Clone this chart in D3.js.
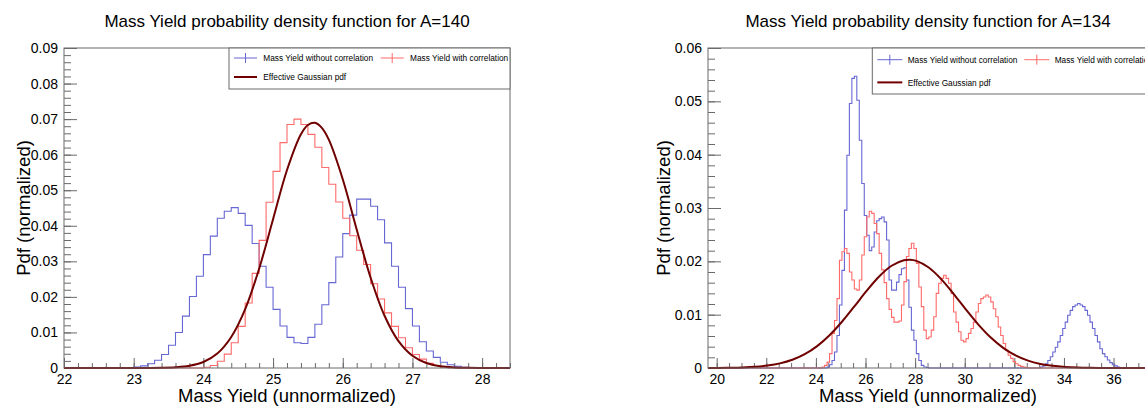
<!DOCTYPE html>
<html><head><meta charset="utf-8">
<script src="https://cdn.jsdelivr.net/npm/d3@7"></script>
<style>
body{margin:0;background:#fff}
svg{display:block}
text{font-family:"Liberation Sans",Arial,Helvetica,sans-serif;fill:#000}
</style>
</head><body>
<svg id="c" width="1145" height="407"></svg>
<script>
// ---------------- DATA ----------------
const binWidth = 0.1;

// Left panel (A=140): bins 22.0 .. 28.4
const leftTitle = "Mass Yield probability density function for A=140";
const leftBinStart = 22.0;
const leftBlue = [
  0,0,0,0,0,0,0,0,0,0,
  0.0003,0.0006,0.0012,0.0022,0.0038,0.0064,0.0100,0.0146,0.0201,0.0258,
  0.0319,0.0371,0.0421,0.0441,0.0451,0.0435,0.0401,0.0350,0.0286,0.0227,
  0.0165,0.0118,0.0086,0.0071,0.0069,0.0086,0.0123,0.0178,0.0240,0.0312,
  0.0378,0.0430,0.0475,0.0475,0.0455,0.0417,0.0352,0.0286,0.0227,0.0167,
  0.0118,0.0074,0.0048,0.0030,0.0016,0.0009,0.0005,0.0002,0.0001,
  0,0,0,0,0
];
const leftRed = [
  0,0,0,0,0,0,0,0,0,0,
  0,0,0,0,0,0,0,0,0,0,
  0.0002,0.0007,0.0019,0.0039,0.0071,0.0117,0.0183,0.0266,0.0359,0.0466,
  0.0553,0.0634,0.0685,0.0700,0.0685,0.0657,0.0621,0.0564,0.0517,0.0467,
  0.0421,0.0372,0.0331,0.0291,0.0237,0.0194,0.0155,0.0117,0.0085,0.0057,
  0.0038,0.0025,0.0013,0.0007,0.0003,0.0001,
  0,0,0,0,0,0,0,0
];
const leftGaussX = [22.0,22.5,23.0,23.2,23.4,23.6,23.8,24.0,24.2,24.4,24.6,24.8,25.0,25.2,25.4,25.5,25.6,25.7,25.8,26.0,26.2,26.4,26.6,26.8,27.0,27.2,27.4,27.6,27.8,28.0,28.4];
const leftGaussY = [0,0,0.0000035,0.000015,0.000059,0.000203,0.000622,0.00169,0.00407,0.00872,0.01655,0.02793,0.04185,0.05568,0.06575,0.06834,0.06896,0.06754,0.06421,0.05309,0.03897,0.0254,0.0147,0.00755,0.00345,0.0014,0.0005,0.00016,0.000045,0.0000115,0];
const leftXTicks = [22,23,24,25,26,27,28];
const leftYTicks = [0,0.01,0.02,0.03,0.04,0.05,0.06,0.07,0.08,0.09];

// Right panel (A=134): bins 19.65 .. 37.55
const rightTitle = "Mass Yield probability density function for A=134";
const rightBinStart = 19.65;
const rightBinCount = 179;
const rightBlueStartA = 24.45;
const rightBlueA = [
  0.0002,0.0006,0.0014,0.0030,0.0061,0.0118,0.0183,0.0296,0.0399,0.0496,
  0.0543,0.0547,0.0502,0.0427,0.0346,0.0286,0.0249,0.0220,0.0227,0.0255,
  0.0276,0.0280,0.0283,0.0274,0.0240,0.0165,0.0146,0.0146,0.0161,0.0175,
  0.0186,0.0188,0.0165,0.0114,0.0071,0.0052,0.0027,0.0014,0.0005,0.0002,0.0001
];
const rightBlueStartB = 33.05;
const rightBlueB = [
  0.0002,0.0004,0.0008,0.0014,0.0021,0.0030,0.0039,0.0049,0.0061,0.0074,
  0.0086,0.0099,0.0108,0.0115,0.0118,0.0121,0.0118,0.0115,0.0108,0.0099,
  0.0086,0.0074,0.0061,0.0049,0.0036,0.0027,0.0021,0.0015,0.0010,0.0006,0.0004,0.0002
];
const rightRedStart = 24.25;
const rightRed = [
  0.0002,0.0005,0.0011,0.0027,0.0065,0.0089,0.0130,0.0202,0.0218,0.0224,
  0.0215,0.0180,0.0165,0.0148,0.0146,0.0165,0.0212,0.0246,0.0283,0.0294,
  0.0290,0.0271,0.0252,0.0215,0.0184,0.0160,0.0130,0.0110,0.0095,0.0086,
  0.0086,0.0088,0.0118,0.0162,0.0209,0.0224,0.0234,0.0224,0.0196,0.0152,
  0.0115,0.0071,0.0055,0.0058,0.0071,0.0096,0.0140,0.0159,0.0168,0.0174,
  0.0168,0.0159,0.0140,0.0105,0.0086,0.0068,0.0052,0.0049,0.0055,0.0065,
  0.0074,0.0086,0.0105,0.0121,0.0130,0.0133,0.0137,0.0133,0.0124,0.0111,
  0.0096,0.0077,0.0061,0.0046,0.0033,0.0024,0.0018,0.0012,0.0008,0.0005,
  0.0003,0.0002,0.0001
];
const rightGaussX = [19.65,20.05,20.55,21.05,21.55,22.05,22.55,23.05,23.55,24.05,24.55,25.05,25.55,26.05,26.55,27.05,27.55,27.8,28.05,28.55,29.05,29.55,30.05,30.55,31.05,31.55,32.05,32.55,33.05,33.55,34.05,34.55,35.05,35.55,36.05,37.55];
const rightGaussY = [0.000006,0.00002,0.000048,0.000108,0.000229,0.000458,0.000865,0.00154,0.00259,0.00411,0.00615,0.00867,0.01154,0.01449,0.01716,0.01917,0.0202,0.0203,0.02009,0.01884,0.01667,0.01391,0.01095,0.00813,0.0057,0.00377,0.00235,0.00138,0.000765,0.0004,0.000198,0.000092,0.00004,0.000016,0.000006,0];
const rightXTicks = [20,22,24,26,28,30,32,34,36];
const rightYTicks = [0,0.01,0.02,0.03,0.04,0.05,0.06];

const legendLabels = ["Mass Yield without correlation","Mass Yield with correlation","Effective Gaussian pdf"];
const xTitle = "Mass Yield (unnormalized)";
const yTitle = "Pdf (normalized)";

// ---------------- STYLE ----------------
const BLUE = "#6767d4", RED = "#ff6a6a", GAUSS = "#700000", FRAME = "#6a6a6a";

const svg = d3.select("#c");
svg.append("rect").attr("width",1145).attr("height",407).attr("fill","#fff");

function fullArray(start, count, segs){
  const arr = new Array(count).fill(0);
  segs.forEach(([s, vals]) => {
    const i0 = Math.round((s - start)/binWidth);
    vals.forEach((v,i)=>{ if (i0+i>=0 && i0+i<count) arr[i0+i]=v; });
  });
  return arr;
}

function drawPanel(cfg){
  const g = svg.append("g");
  const x = d3.scaleLinear().domain(cfg.xDomain).range([cfg.x0, cfg.x1]);
  const y = d3.scaleLinear().domain(cfg.yDomain).range([cfg.y1, cfg.y0]);
  const clipId = "clip"+cfg.id;
  svg.append("clipPath").attr("id",clipId).append("rect")
    .attr("x",cfg.x0).attr("y",cfg.y0-2).attr("width",cfg.x1-cfg.x0).attr("height",cfg.y1-cfg.y0+4);

  // minor ticks
  g.append("g").attr("transform",`translate(${cfg.x0},0)`)
    .call(d3.axisLeft(y).tickValues(cfg.yMinor).tickSize(-7).tickFormat(""))
    .call(s=>{s.select(".domain").remove(); s.selectAll("line").attr("stroke",FRAME);});
  g.append("g").attr("transform",`translate(0,${cfg.y1})`)
    .call(d3.axisBottom(x).tickValues(cfg.xMinor).tickSize(-5).tickFormat(""))
    .call(s=>{s.select(".domain").remove(); s.selectAll("line").attr("stroke",FRAME);});
  // major ticks
  g.append("g").attr("transform",`translate(${cfg.x0},0)`)
    .call(d3.axisLeft(y).tickValues(cfg.yTicks).tickSize(-13).tickPadding(6)
      .tickFormat(d => d===0 ? "0" : d3.format(".2f")(d)))
    .call(s=>{s.select(".domain").remove(); s.selectAll("line").attr("stroke",FRAME);
      s.selectAll("text").attr("font-size",14).attr("font-family",'"Liberation Sans",Arial,sans-serif').attr("fill","#000");});
  g.append("g").attr("transform",`translate(0,${cfg.y1})`)
    .call(d3.axisBottom(x).tickValues(cfg.xTicks).tickSize(-10).tickPadding(6).tickFormat(d3.format("d")))
    .call(s=>{s.select(".domain").remove(); s.selectAll("line").attr("stroke",FRAME);
      s.selectAll("text").attr("font-size",14).attr("font-family",'"Liberation Sans",Arial,sans-serif').attr("fill","#000");});

  // histograms
  const line = d3.line().x(d=>x(d[0])).y(d=>y(d[1])).curve(d3.curveStepAfter);
  const plot = g.append("g").attr("clip-path",`url(#${clipId})`);
  [[cfg.blue, BLUE],[cfg.red, RED]].forEach(([vals,col])=>{
    const pts = vals.map((v,i)=>[cfg.binStart + i*binWidth, v]);
    pts.push([cfg.binStart + vals.length*binWidth, vals[vals.length-1]]);
    plot.append("path").attr("d",line(pts)).attr("fill","none").attr("stroke",col).attr("stroke-width",1.1);
  });
  const gl = d3.line().x(d=>x(d[0])).y(d=>y(d[1])).curve(d3.curveCatmullRom.alpha(0.5));
  plot.append("path").attr("d",gl(cfg.gx.map((v,i)=>[v,cfg.gy[i]])))
    .attr("fill","none").attr("stroke",GAUSS).attr("stroke-width",2);

  // frame
  g.append("rect").attr("x",cfg.x0).attr("y",cfg.y0).attr("width",cfg.x1-cfg.x0).attr("height",cfg.y1-cfg.y0)
    .attr("fill","none").attr("stroke",FRAME).attr("stroke-width",1);

  // legend
  const L = cfg.leg;
  g.append("rect").attr("x",L.x).attr("y",cfg.y0).attr("width",cfg.x1-L.x).attr("height",L.h)
    .attr("fill","#fff").attr("stroke",FRAME).attr("stroke-width",1);
  const r1 = cfg.y0 + L.r1, r2 = cfg.y0 + L.r2;
  const mark = (mx, col, row) => {
    g.append("line").attr("x1",L.x+mx).attr("x2",L.x+mx+L.mw).attr("y1",row).attr("y2",row).attr("stroke",col).attr("stroke-width",1);
    g.append("line").attr("x1",L.x+mx+L.mw/2).attr("x2",L.x+mx+L.mw/2).attr("y1",row-5).attr("y2",row+5).attr("stroke",col).attr("stroke-width",1);
  };
  mark(5, BLUE, r1);
  mark(L.redX, RED, r1);
  g.append("line").attr("x1",L.x+5).attr("x2",L.x+5+L.mw).attr("y1",r2).attr("y2",r2).attr("stroke",GAUSS).attr("stroke-width",2);
  const lt = (tx, ty, s) => g.append("text").attr("x",tx).attr("y",ty+3.2).attr("font-size",8.3).text(s);
  lt(L.x+L.tx, r1, legendLabels[0]);
  lt(L.x+L.redX+L.tx-5, r1, legendLabels[1]);
  lt(L.x+L.tx, r2, legendLabels[2]);

  // titles
  g.append("text").attr("x",cfg.titleX).attr("y",27).attr("text-anchor","middle").attr("font-size",17).text(cfg.title);
  g.append("text").attr("x",cfg.titleX).attr("y",402).attr("text-anchor","middle").attr("font-size",18.5).text(xTitle);
  g.append("text").attr("transform",`translate(${cfg.yTitleX},${(cfg.y0+cfg.y1)/2}) rotate(-90)`)
    .attr("text-anchor","middle").attr("font-size",18.5).text(yTitle);
}

drawPanel({
  id:"L", x0:64, x1:510, y0:48, y1:368,
  xDomain:[22, 28.4], yDomain:[0,0.09],
  xTicks:leftXTicks, yTicks:leftYTicks,
  xMinor:d3.range(22,28.41,0.2), yMinor:d3.range(0,0.0901,0.002),
  binStart:leftBinStart, blue:leftBlue, red:leftRed,
  gx:leftGaussX, gy:leftGaussY,
  leg:{x:229, h:41, r1:10, r2:29, mw:23, redX:151.7, tx:34.3},
  title:leftTitle, titleX:287, yTitleX:30
});

drawPanel({
  id:"R", x0:708, x1:1152, y0:48, y1:368,
  xDomain:[rightBinStart, rightBinStart + rightBinCount*binWidth], yDomain:[0,0.06],
  xTicks:rightXTicks, yTicks:rightYTicks,
  xMinor:d3.range(20,37.51,0.5), yMinor:d3.range(0,0.0601,0.002),
  binStart:rightBinStart,
  blue:fullArray(rightBinStart, rightBinCount, [[rightBlueStartA,rightBlueA],[rightBlueStartB,rightBlueB]]),
  red:fullArray(rightBinStart, rightBinCount, [[rightRedStart,rightRed]]),
  gx:rightGaussX, gy:rightGaussY,
  leg:{x:872.3, h:46, r1:11.7, r2:34.4, mw:25, redX:152, tx:35.4},
  title:rightTitle, titleX:928, yTitleX:670
});
</script>
</body></html>
